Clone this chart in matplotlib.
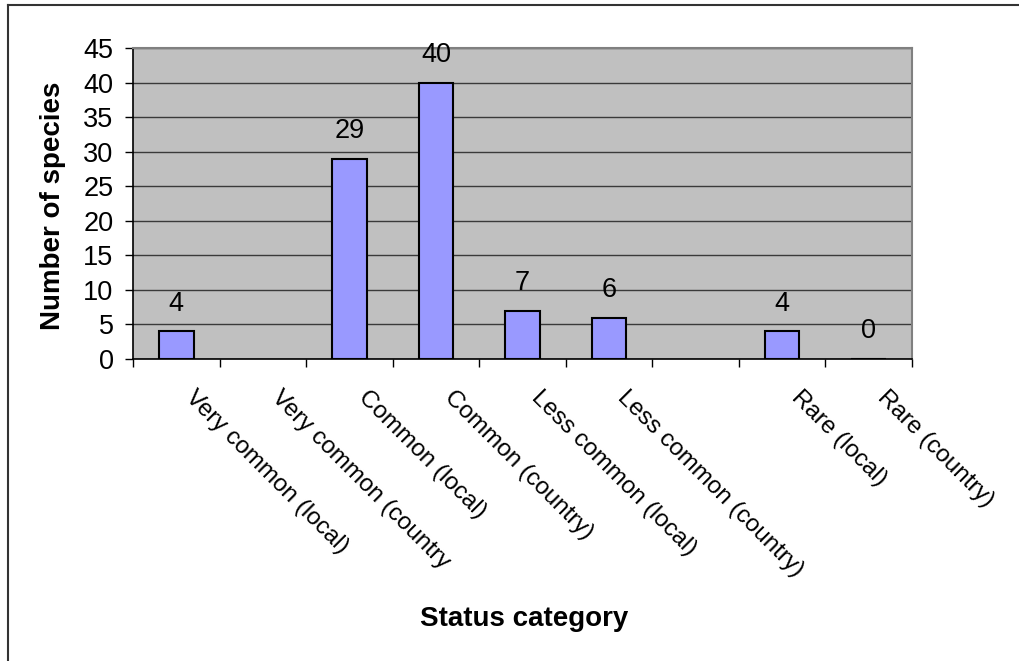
import numpy as np
import matplotlib
matplotlib.use("Agg")
import matplotlib.pyplot as plt
from matplotlib.lines import Line2D
from matplotlib.transforms import ScaledTranslation

plt.rcParams["font.family"] = ["Liberation Sans", "DejaVu Sans"]

# Species counts per status category (blank slots have no data)
categories = [
    "Very common (local)",
    "Very common (country",
    "Common (local)",
    "Common (country)",
    "Less common (local)",
    "Less common (country)",
    "",
    "Rare (local)",
    "Rare (country)",
]
counts = [4, np.nan, 29, 40, 7, 6, np.nan, 4, 0]
y_ticks = [0, 5, 10, 15, 20, 25, 30, 35, 40, 45]

W, H = 1019, 661
fig = plt.figure(figsize=(W / 100, H / 100), dpi=100)
fig.patch.set_facecolor("white")

# plot area in pixel units
left, right, top, bottom = 133, 912, 48, 359
ax = fig.add_axes([left / W, (H - bottom) / H, (right - left) / W, (bottom - top) / H])
ax.set_facecolor("#C0C0C0")

x = np.arange(len(categories))
ax.bar(x, counts, width=0.4, color="#9999FF", edgecolor="black", linewidth=1.5, zorder=3)

for xi, v in zip(x, counts):
    if np.isnan(v):
        continue
    ax.annotate(f"{int(v)}", (xi, v), xytext=(0, 20), textcoords="offset points",
                ha="center", va="center", fontsize=19.5, zorder=4)

ax.set_xlim(-0.5, len(categories) - 0.5)
ax.set_ylim(0, 45)
ax.set_yticks(y_ticks)
ax.set_yticklabels([str(t) for t in y_ticks], fontsize=19.5)
ax.yaxis.grid(True, color="#3a3a3a", linewidth=1.0, zorder=1)
ax.set_axisbelow(True)

# tick marks sit between categories, labels at category centres
ax.set_xticks(np.arange(-0.5, len(categories), 1.0))
ax.set_xticklabels([])
ax.set_xticks(x, minor=True)
ax.set_xticklabels(categories, minor=True, rotation=-45, ha="left", va="top",
                   rotation_mode="anchor", fontsize=17.5)
ax.tick_params(axis="x", which="minor", length=0, pad=20)
ax.tick_params(axis="x", which="major", direction="out", length=6, width=1, color="black")
ax.tick_params(axis="y", direction="out", length=6, width=1, color="black", pad=8)
offset = ScaledTranslation(0.20, 0, fig.dpi_scale_trans)
for lbl in ax.get_xticklabels(minor=True):
    lbl.set_transform(lbl.get_transform() + offset)

for side in ("left", "bottom"):
    ax.spines[side].set_color("black")
    ax.spines[side].set_linewidth(1.2)
for side in ("top", "right"):
    ax.spines[side].set_color("#808080")
    ax.spines[side].set_linewidth(1.5)

fig.text(53 / W, 1 - 206 / H, "Number of species", rotation=90, ha="center", va="center",
         fontsize=20, fontweight="bold")
fig.text(524 / W, 1 - 619 / H, "Status category", ha="center", va="center",
         fontsize=20, fontweight="bold")

# chart frame (top and left edges)
fig.add_artist(Line2D([8 / W, 1.0], [1 - 5 / H, 1 - 5 / H], transform=fig.transFigure,
                      color="#333333", linewidth=1.5))
fig.add_artist(Line2D([8 / W, 8 / W], [0.0, 1 - 5 / H], transform=fig.transFigure,
                      color="#333333", linewidth=1.5))

fig.savefig("out.png", dpi=100, facecolor="white")
